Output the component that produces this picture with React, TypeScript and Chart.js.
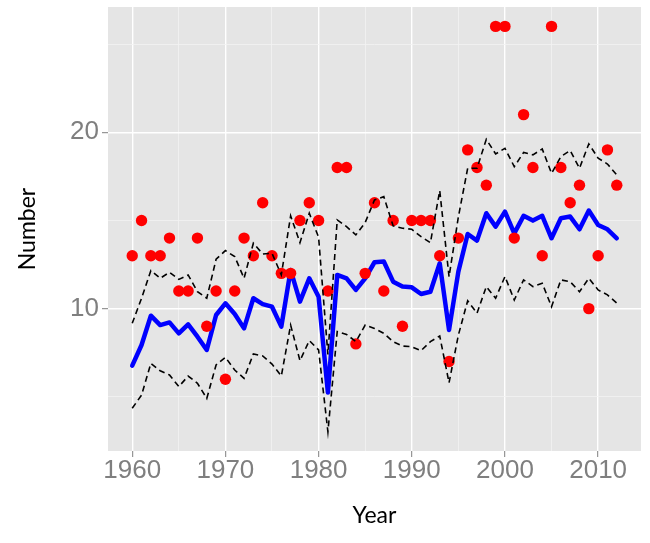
import React, { useEffect, useRef } from "react";
import { Chart, registerables } from "chart.js";

Chart.register(...registerables);

const years = [
  1960, 1961, 1962, 1963, 1964, 1965, 1966, 1967, 1968, 1969,
  1970, 1971, 1972, 1973, 1974, 1975, 1976, 1977, 1978, 1979,
  1980, 1981, 1982, 1983, 1984, 1985, 1986, 1987, 1988, 1989,
  1990, 1991, 1992, 1993, 1994, 1995, 1996, 1997, 1998, 1999,
  2000, 2001, 2002, 2003, 2004, 2005, 2006, 2007, 2008, 2009,
  2010, 2011, 2012,
];

const counts = [
  13, 15, 13, 13, 14, 11, 11, 14, 9, 11,
  6, 11, 14, 13, 16, 13, 12, 12, 15, 16,
  15, 11, 18, 18, 8, 12, 16, 11, 15, 9,
  15, 15, 15, 13, 7, 14, 19, 18, 17, 26,
  26, 14, 21, 18, 13, 26, 18, 16, 17, 10,
  13, 19, 17,
];

const fitted = [
  6.77, 7.94, 9.6, 9.07, 9.22, 8.6, 9.11, 8.41, 7.66, 9.64,
  10.3, 9.7, 8.88, 10.59, 10.26, 10.11, 8.98, 12.19, 10.4, 11.72,
  10.68, 5.24, 11.91, 11.72, 11.06, 11.72, 12.63, 12.67, 11.53, 11.25,
  11.21, 10.83, 10.96, 12.57, 8.79, 12.1, 14.23, 13.86, 15.41, 14.65,
  15.5, 14.27, 15.26, 14.99, 15.26, 13.99, 15.12, 15.22, 14.5, 15.56,
  14.74, 14.5, 13.99,
];

const upperBand = [
  9.17, 10.59, 12.16, 11.72, 12.06, 11.66, 11.91, 10.96, 10.59, 12.8,
  13.29, 12.95, 11.72, 13.71, 13.1, 13.14, 11.91, 15.26, 13.74, 15.41,
  14.05, 7.4, 15.03, 14.65, 14.18, 14.88, 16.16, 16.35, 14.69, 14.56,
  14.5, 14.08, 13.74, 16.69, 11.81, 15.2, 17.96, 17.96, 19.6, 18.77,
  19.09, 18.05, 18.85, 18.72, 19.05, 17.67, 18.62, 18.96, 17.96, 19.34,
  18.53, 18.2, 17.58,
];

const lowerBand = [
  4.35, 5.1, 6.9, 6.48, 6.24, 5.58, 6.18, 5.77, 4.91, 6.81,
  7.24, 6.52, 6.05, 7.43, 7.32, 6.86, 6.18, 9.07, 7.05, 8.19,
  7.66, 3.02, 8.7, 8.54, 8.13, 9.07, 8.88, 8.6, 8.13, 7.88,
  7.84, 7.62, 8.13, 8.45, 5.8, 8.5, 10.45, 9.74, 11.25, 10.59,
  11.82, 10.49, 11.63, 11.25, 11.44, 10.11, 11.63, 11.53, 10.96, 11.72,
  11.06, 10.78, 10.31,
];

const xGridTicks = [1960, 1965, 1970, 1975, 1980, 1985, 1990, 1995, 2000, 2005, 2010];
const xLabels = [1960, 1970, 1980, 1990, 2000, 2010];
const yGridTicks = [5, 10, 15, 20, 25];
const yLabels = [10, 20];

const toXY = (vals: number[]) => years.map((x, i) => ({ x, y: vals[i] }));

const panelBg = {
  id: "panelBg",
  beforeDraw(chart: any) {
    const { ctx, chartArea: a } = chart;
    ctx.save();
    ctx.fillStyle = "#E5E5E5";
    ctx.fillRect(a.left, a.top, a.right - a.left, a.bottom - a.top);
    ctx.restore();
  },
};

export default function App() {
  const ref = useRef<HTMLCanvasElement | null>(null);

  useEffect(() => {
    if (!ref.current) return;
    const gridFor = (labels: number[]) => ({
      color: (c: any) => (labels.includes(c.tick?.value) ? "#FFFFFF" : "#F2F2F2"),
      lineWidth: (c: any) => (labels.includes(c.tick?.value) ? 1.4 : 0.8),
      tickColor: (c: any) => (labels.includes(c.tick?.value) ? "#7F7F7F" : "rgba(0,0,0,0)"),
      tickWidth: 1,
      tickLength: 6,
      drawTicks: true,
    });
    const chart = new Chart(ref.current, {
      type: "line",
      data: {
        datasets: [
          {
            label: "upper",
            data: toXY(upperBand),
            borderColor: "#000000",
            borderWidth: 1.6,
            borderDash: [6, 4],
            pointRadius: 0,
            tension: 0,
            fill: false,
          },
          {
            label: "lower",
            data: toXY(lowerBand),
            borderColor: "#000000",
            borderWidth: 1.6,
            borderDash: [6, 4],
            pointRadius: 0,
            tension: 0,
            fill: false,
          },
          {
            label: "observed",
            data: toXY(counts),
            showLine: false,
            pointRadius: 5.7,
            pointBackgroundColor: "#FF0000",
            pointBorderWidth: 0,
            borderColor: "#FF0000",
            backgroundColor: "#FF0000",
          },
          {
            label: "fitted",
            data: toXY(fitted),
            borderColor: "#0000FF",
            borderWidth: 4.5,
            borderJoinStyle: "round",
            borderCapStyle: "round",
            pointRadius: 0,
            tension: 0,
            fill: false,
          },
        ],
      },
      options: {
        responsive: false,
        maintainAspectRatio: false,
        animation: false,
        devicePixelRatio: 1,
        layout: { padding: { top: 7, right: 9, left: 0, bottom: 0 } },
        plugins: { legend: { display: false }, tooltip: { enabled: false } },
        scales: {
          x: {
            type: "linear",
            min: 1957.4,
            max: 2014.6,
            afterBuildTicks: (s: any) => {
              s.ticks = xGridTicks.map((v) => ({ value: v }));
            },
            afterFit: (s: any) => {
              s.height = 92;
              s.paddingLeft = 0;
              s.paddingRight = 0;
            },
            border: { display: false },
            grid: gridFor(xLabels),
            ticks: {
              autoSkip: false,
              maxRotation: 0,
              padding: 1,
              color: "#7F7F7F",
              font: { family: "Liberation Sans", size: 26, lineHeight: 1 },
              callback: (v: any) => (xLabels.includes(v) ? String(v) : ""),
            },
            title: {
              display: true,
              text: "Year",
              color: "#000000",
              font: { family: "Lato", size: 23 },
              padding: { top: 0, bottom: 13.2 },
            },
          },
          y: {
            type: "linear",
            min: 1.93,
            max: 27.1,
            afterBuildTicks: (s: any) => {
              s.ticks = yGridTicks.map((v) => ({ value: v }));
            },
            afterFit: (s: any) => {
              s.width = 108;
              s.paddingTop = 0;
              s.paddingBottom = 0;
            },
            border: { display: false },
            grid: gridFor(yLabels),
            ticks: {
              autoSkip: false,
              padding: 3,
              color: "#7F7F7F",
              font: { family: "Liberation Sans", size: 26 },
              callback: (v: any) => (yLabels.includes(v) ? String(v) : ""),
            },
            title: {
              display: true,
              text: "Number",
              color: "#000000",
              font: { family: "Lato", size: 23 },
              padding: { top: 14.2, bottom: 0 },
            },
          },
        },
      },
      plugins: [panelBg],
    } as any);
    return () => chart.destroy();
  }, []);

  return (
    <div style={{ position: "absolute", left: 0, top: 0, width: 650, height: 543, background: "#FFFFFF" }}>
      <canvas ref={ref} width={650} height={543} style={{ display: "block" }} />
    </div>
  );
}
